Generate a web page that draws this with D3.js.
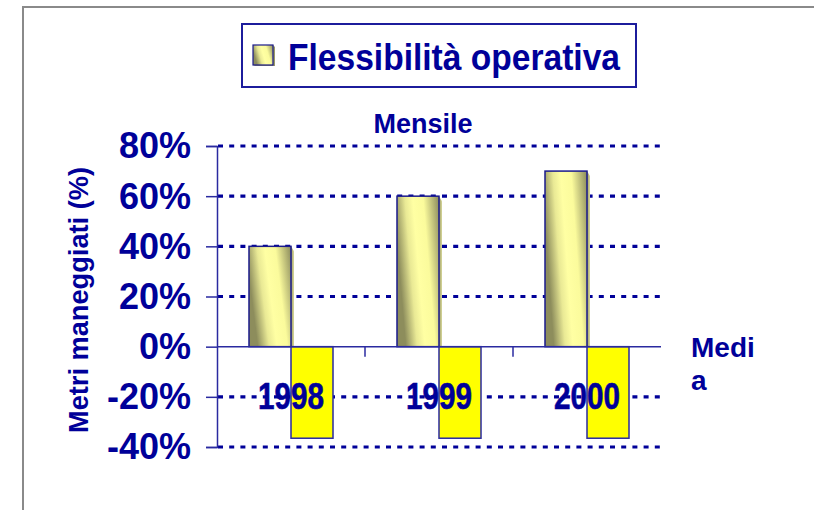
<!DOCTYPE html>
<html>
<head>
<meta charset="utf-8">
<script src="https://cdn.jsdelivr.net/npm/d3@7"></script>
<style>
  html, body { margin: 0; padding: 0; background: #ffffff; }
  svg { display: block; }
  text { font-family: "Liberation Sans", Arial, sans-serif; font-weight: bold; fill: #000099; }
</style>
</head>
<body>
<svg id="chart" width="814" height="510"></svg>
<script>
// ---- data ----
const categories = ["1998", "1999", "2000"];
const mensileValues = [40, 60, 70];       // positive 3D bars (Flessibilità operativa)
const mediaValues = [-36.5, -36.5, -36.5]; // negative yellow bars
const yTicks = [-40, -20, 0, 20, 40, 60, 80];
const legendLabel = "Flessibilità operativa";
const yTitle = "Metri maneggiati (%)";
const topLabel = "Mensile";
const rightLabelLines = ["Medi", "a"];

const navy = "#000099";
const svg = d3.select("#chart");

// outer frame
svg.append("rect").attr("x", 23).attr("y", 7).attr("width", 900).attr("height", 600)
  .attr("fill", "none").attr("stroke", "#8a8a8a").attr("stroke-width", 2);

// gradients
const defs = svg.append("defs");
const g1 = defs.append("linearGradient").attr("id", "barGrad").attr("x1", 0).attr("y1", 0.3).attr("x2", 1).attr("y2", 0);
[[0, "#8d8d5c"], [0.25, "#e9e995"], [0.42, "#ffffa3"], [0.65, "#fbfb9c"], [1, "#8a8a5c"]]
  .forEach(([o, c]) => g1.append("stop").attr("offset", o).attr("stop-color", c));
const g2 = defs.append("linearGradient").attr("id", "sideGrad").attr("x1", 0).attr("y1", 0).attr("x2", 1).attr("y2", 0);
[[0, "#9a9a66"], [1, "#d8d89a"]].forEach(([o, c]) => g2.append("stop").attr("offset", o).attr("stop-color", c));

// scales
const y = d3.scaleLinear().domain([-40, 80]).range([447, 146]);
const x = d3.scaleBand().domain(categories).range([217, 661]).padding(0);
const sub = d3.scaleBand().domain(["mensile", "media"]).range([0, 84]);
const groupLeft = c => x(c) + x.bandwidth() / 2 - 42;

// gridlines (dotted), except zero
svg.append("g").selectAll("line").data(yTicks.filter(t => t !== 0)).join("line")
  .attr("x1", 218).attr("x2", 661).attr("y1", d => y(d)).attr("y2", d => y(d))
  .attr("stroke", navy).attr("stroke-width", 3.2).attr("stroke-dasharray", "5 6.2");

// y axis
const yAxis = svg.append("g").attr("transform", "translate(217,0)")
  .call(d3.axisLeft(y).tickValues(yTicks).tickSize(11).tickPadding(15).tickFormat(d => d + "%"));
yAxis.select(".domain").attr("stroke", "#2a2aa0").attr("stroke-width", 1.5);
yAxis.selectAll(".tick line").attr("stroke", "#2a2aa0").attr("stroke-width", 1.5);
yAxis.selectAll(".tick text").attr("fill", navy).attr("font-size", 36).attr("font-weight", "bold")
  .attr("font-family", "'Liberation Sans', Arial, sans-serif").attr("dy", "0.33em");

// positive 3D bars
const pos = svg.append("g");
categories.forEach((c, i) => {
  const x0 = groupLeft(c) + sub("mensile");
  const w = sub.bandwidth();
  const top = y(mensileValues[i]);
  const base = y(0);
  pos.append("polygon")
    .attr("points", `${x0 + w},${top} ${x0 + w + 3},${top + 5} ${x0 + w + 3},${base} ${x0 + w},${base}`)
    .attr("fill", "url(#sideGrad)");
  pos.append("rect").attr("x", x0).attr("y", top).attr("width", w).attr("height", base - top)
    .attr("fill", "url(#barGrad)").attr("stroke", "#1a1a8c").attr("stroke-width", 1.5);
});

// negative yellow bars
svg.append("g").selectAll("rect").data(categories).join("rect")
  .attr("x", c => groupLeft(c) + sub("media"))
  .attr("y", y(0))
  .attr("width", sub.bandwidth())
  .attr("height", (c, i) => y(mediaValues[i]) - y(0))
  .attr("fill", "#ffff00").attr("stroke", "#2a2aa0").attr("stroke-width", 1.5);

// zero axis line and category ticks
svg.append("line").attr("x1", 217).attr("x2", 661).attr("y1", y(0)).attr("y2", y(0))
  .attr("stroke", "#2a2aa0").attr("stroke-width", 1.5);
svg.append("g").selectAll("line").data(categories.slice(1)).join("line")
  .attr("x1", c => x(c)).attr("x2", c => x(c)).attr("y1", y(0)).attr("y2", y(0) + 10)
  .attr("stroke", "#2a2aa0").attr("stroke-width", 1.5);

// category labels
svg.append("g").selectAll("text").data(categories).join("text")
  .attr("x", c => x(c) + x.bandwidth() / 2).attr("y", 409)
  .attr("text-anchor", "middle").attr("font-size", 36)
  .attr("textLength", 66).attr("lengthAdjust", "spacingAndGlyphs")
  .attr("stroke", navy).attr("stroke-width", 0.6)
  .text(d => d);

// y title
svg.append("text").attr("transform", "translate(88,300) rotate(-90)")
  .attr("text-anchor", "middle").attr("font-size", 27)
  .attr("textLength", 266).attr("lengthAdjust", "spacingAndGlyphs")
  .text(yTitle);

// top label
svg.append("text").attr("x", 423).attr("y", 133).attr("text-anchor", "middle")
  .attr("font-size", 27).text(topLabel);

// right label
svg.append("g").selectAll("text").data(rightLabelLines).join("text")
  .attr("x", 691).attr("y", (d, i) => 357 + i * 33).attr("font-size", 28)
  .text(d => d);

// legend
const lg = svg.append("g");
lg.append("rect").attr("x", 242).attr("y", 24).attr("width", 394).attr("height", 63)
  .attr("fill", "#ffffff").attr("stroke", "#1c1c9c").attr("stroke-width", 2);
lg.append("polygon").attr("points", "273,45 275,47 275,66 255,66 253,65 273,65")
  .attr("fill", "#9a9a66");
lg.append("rect").attr("x", 253).attr("y", 45).attr("width", 20).attr("height", 20)
  .attr("fill", "url(#barGrad)").attr("stroke", "#1a1a8c").attr("stroke-width", 1.2);
lg.append("text").attr("x", 288).attr("y", 70).attr("font-size", 37)
  .attr("textLength", 332).attr("lengthAdjust", "spacingAndGlyphs")
  .text(legendLabel);
</script>
</body>
</html>
